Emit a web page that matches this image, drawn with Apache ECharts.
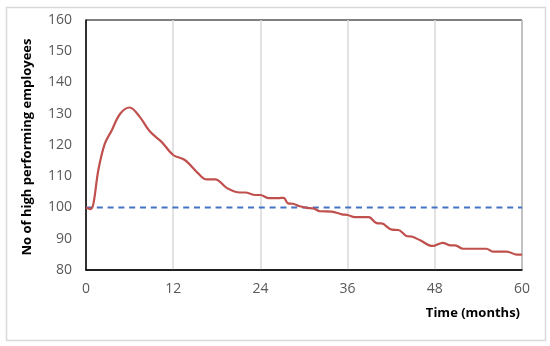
<!DOCTYPE html>
<html>
<head>
<meta charset="utf-8">
<script src="https://cdn.jsdelivr.net/npm/echarts@6/dist/echarts.min.js"></script>
<style>html,body{margin:0;padding:0;background:#fff}#c{width:550px;height:346px}</style>
</head>
<body>
<div id="c"></div>
<script>
var months = [0, 0.6, 1, 1.7, 2.6, 3.5, 4.7, 6, 7.4, 8.8, 10.4, 12, 13.6, 15.4, 16.6, 17.8, 19.4, 21.2, 21.9, 23.3, 24, 25.1, 26.5, 27.2, 27.8, 28.5, 29.3, 30.4, 31.3, 32.2, 33.8, 35.2, 36, 37, 38.9, 40, 40.7, 42.1, 43, 44.1, 44.8, 46, 47.6, 48, 49.1, 50.1, 50.8, 51.9, 55.1, 56, 57.9, 59.3, 60];
var employees = [100, 99.5, 101, 112, 120.5, 124.5, 130, 132, 129, 124.3, 121, 116.8, 115.2, 111, 109, 109, 106.2, 104.8, 104.8, 104, 104, 103, 103, 103.1, 101.3, 101.2, 100.5, 99.9, 99.7, 98.8, 98.7, 97.8, 97.6, 96.9, 96.9, 95, 94.9, 92.9, 92.8, 90.9, 90.7, 89.5, 87.7, 87.8, 88.7, 87.9, 87.9, 86.8, 86.8, 85.9, 85.9, 84.9, 84.9];
var baselineMonths = [0, 60];
var baselineValues = [100, 100];
var yTitle = 'No of high performing employees';
var xTitle = 'Time (months)';

function pairs(xs, ys) { return xs.map(function (x, i) { return [x, ys[i]]; }); }

var chart = echarts.init(document.getElementById('c'), null, { renderer: 'canvas' });
chart.setOption({
  animation: false,
  backgroundColor: '#fff',
  textStyle: { fontFamily: 'Open Sans' },
  graphic: [{
    type: 'rect', left: 4, top: 5,
    shape: { width: 539, height: 333 },
    style: { fill: 'none', stroke: '#d9d9d9', lineWidth: 1.5 },
    silent: true
  }, {
    type: 'text', right: 30, top: 307,
    style: { text: xTitle, font: 'bold 13px "Open Sans"', fill: '#000' }
  }, {
    type: 'text', rotation: Math.PI / 2,
    style: { text: yTitle, font: 'bold 13px "Open Sans"', fill: '#000', align: 'center', verticalAlign: 'middle' },
    x: 27, y: 147
  }],
  grid: { left: 86, right: 28, top: 20, bottom: 76, show: true, borderColor: '#000', borderWidth: 1, backgroundColor: 'transparent' },
  xAxis: {
    type: 'value', min: 0, max: 60, interval: 12,
    axisLine: { show: true, lineStyle: { color: '#000', width: 1.5 } },
    axisTick: { show: false },
    axisLabel: { color: '#595959', fontSize: 14, margin: 12 },
    splitLine: { show: true, lineStyle: { color: '#d9d9d9', width: 1.5 } }
  },
  yAxis: {
    type: 'value', min: 80, max: 160, interval: 10,
    axisLine: { show: true, lineStyle: { color: '#000', width: 1.5 } },
    axisTick: { show: false },
    axisLabel: { color: '#595959', fontSize: 14, margin: 14 },
    splitLine: { show: false }
  },
  series: [{
    type: 'line',
    data: pairs(baselineMonths, baselineValues),
    symbol: 'none',
    lineStyle: { color: '#4472C4', width: 2, type: [6, 4.8] },
    z: 2
  }, {
    type: 'line',
    data: pairs(months, employees),
    symbol: 'none',
    smooth: 0.35,
    lineStyle: { color: '#C0504D', width: 2.2 },
    z: 3
  }]
});
</script>
</body>
</html>
